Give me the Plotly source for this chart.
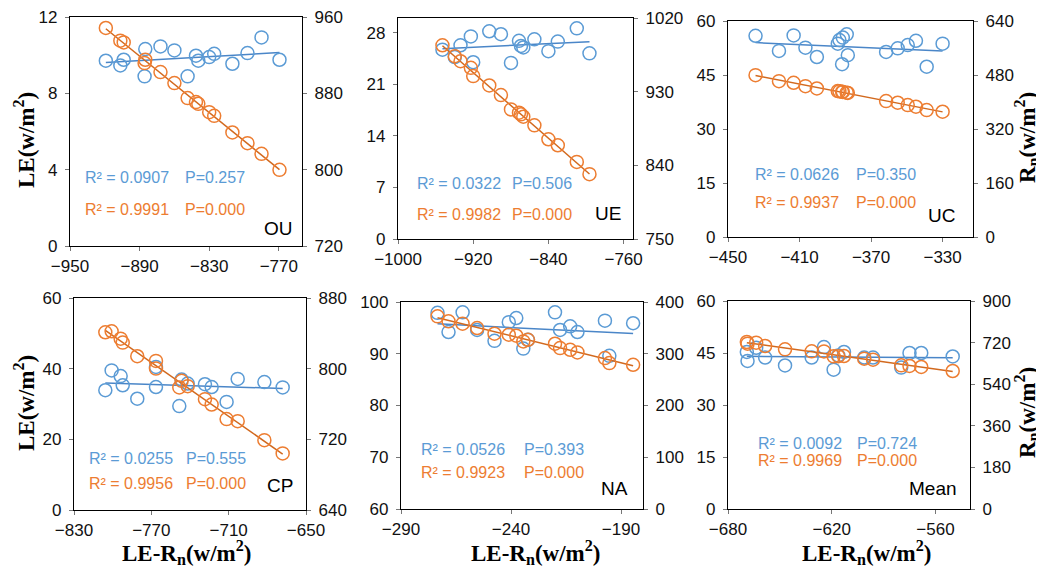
import numpy as np
import plotly.graph_objects as go

# ---- data (x = LE-Rn, le = LE, rn = Rn) ----
ou_x = [-919.1, -906.6, -903.7, -885.1, -885.7, -872.0, -860.0, -848.6, -841.4, -839.4, -830.0, -825.7, -810.0, -797.0, -784.9, -769.4]
ou_le = [9.71, 9.46, 9.76, 10.32, 8.89, 10.46, 10.25, 8.89, 9.97, 9.71, 9.90, 10.07, 9.55, 10.11, 10.93, 9.76]
ou_rn = [948.5, 935.2, 933.4, 915.2, 911.7, 902.3, 890.7, 875.0, 870.8, 869.0, 860.3, 856.4, 839.0, 827.8, 816.6, 799.8]

ue_x = [-952.7, -939.6, -933.5, -922.5, -920.0, -902.9, -890.5, -879.8, -871.3, -869.2, -866.7, -854.9, -840.0, -830.0, -809.8, -796.3]
ue_le = [25.7, 24.7, 26.3, 27.5, 24.0, 28.2, 27.8, 23.9, 26.9, 26.2, 26.0, 27.1, 25.5, 26.8, 28.6, 25.2]
ue_rn = [986.7, 973.3, 967.2, 959.1, 949.0, 937.6, 925.8, 908.3, 904.3, 902.3, 899.4, 888.9, 871.8, 864.5, 844.2, 829.2]

uc_x = [-434.6, -421.5, -413.3, -406.7, -400.3, -388.6, -387.7, -385.8, -383.6, -383.0, -386.2, -361.6, -355.1, -349.5, -344.9, -338.9, -330.0]
uc_le = [55.9, 51.7, 56.0, 52.6, 50.0, 53.7, 54.7, 55.4, 56.3, 50.5, 48.0, 51.4, 52.4, 53.3, 54.5, 47.3, 53.7]
uc_rn = [479.5, 461.8, 456.9, 447.0, 440.1, 432.3, 431.5, 429.8, 427.6, 427.0, 430.2, 402.7, 397.8, 390.9, 386.0, 376.0, 371.2]

cp_x = [-805.7, -800.8, -793.8, -792.2, -780.9, -766.4, -766.4, -748.3, -746.5, -741.8, -728.4, -723.2, -711.6, -703.0, -682.3, -668.1]
cp_le = [33.9, 39.5, 37.9, 35.3, 31.5, 40.5, 34.8, 29.4, 36.9, 35.8, 35.6, 34.8, 30.6, 37.1, 36.2, 34.7]
cp_rn = [841.2, 842.3, 834.0, 829.5, 814.1, 808.8, 800.1, 778.7, 786.2, 780.2, 765.5, 759.4, 742.9, 740.6, 719.1, 704.1]

na_x = [-273.4, -268.4, -262.0, -255.4, -247.5, -241.0, -237.6, -234.4, -232.3, -220.0, -217.7, -213.1, -209.8, -197.3, -195.3, -184.5]
na_le = [97.9, 94.2, 98.0, 94.6, 92.5, 96.1, 96.9, 91.0, 92.7, 98.0, 94.6, 95.3, 94.2, 96.4, 89.6, 95.9]
na_rn = [372.3, 362.6, 358.1, 349.7, 338.7, 336.8, 334.8, 323.9, 327.0, 319.4, 311.0, 307.7, 302.6, 291.6, 281.9, 278.7]

mean_x = [-669.1, -668.7, -663.7, -658.5, -647.0, -631.6, -624.5, -618.9, -616.2, -612.9, -601.2, -596.1, -579.8, -575.0, -568.2, -550.0]
mean_le = [45.3, 42.7, 46.5, 43.7, 41.4, 43.7, 46.7, 40.2, 44.3, 45.3, 43.7, 43.7, 40.8, 45.0, 45.0, 44.0]
mean_rn = [722.6, 715.4, 719.7, 705.3, 690.9, 682.2, 682.0, 660.6, 661.0, 662.0, 650.5, 646.2, 621.7, 618.8, 614.5, 597.1]

site_names = ["OU", "UE", "UC", "CP", "NA", "Mean"]
r2_le = ["0.0907", "0.0322", "0.0626", "0.0255", "0.0526", "0.0092"]
p_le = ["0.257", "0.506", "0.350", "0.555", "0.393", "0.724"]
r2_rn = ["0.9991", "0.9982", "0.9937", "0.9956", "0.9923", "0.9969"]
p_rn = ["0.000", "0.000", "0.000", "0.000", "0.000", "0.000"]

BLUE = "#5B9BD5"
BLUE_LINE = "#4A86C8"
ORANGE = "#ED7D31"
ORANGE_LINE = "#D2691E"

# page body has an 8px margin, so the figure is a little smaller than the window
OFF = 8
W, H = 1044 - OFF, 570 - OFF


def px(x, y):
    return (x - OFF) / W, 1 - (y - OFF) / H


panels = [
    dict(x=ou_x, le=ou_le, rn=ou_rn, xr=[-950, -750], xd=60, lr=[0, 12], ld=4, rr=[720, 960], rd=80,
         box=(70, 17, 302, 246), r2y=(177, 209), px_=(83, 183), lab=(295, 228)),
    dict(x=ue_x, le=ue_le, rn=ue_rn, xr=[-1000, -750], xd=80, lr=[0, 30], ld=7, rr=[750, 1020], rd=90,
         box=(398, 18, 633, 239), r2y=(183, 214), px_=(415, 510), lab=(623, 213)),
    dict(x=uc_x, le=uc_le, rn=uc_rn, xr=[-450, -313], xd=40, lr=[0, 60], ld=15, rr=[0, 640], rd=160,
         box=(728, 21, 973, 237), r2y=(174, 203), px_=(753, 854), lab=(957, 216)),
    dict(x=cp_x, le=cp_le, rn=cp_rn, xr=[-830, -650], xd=60, lr=[0, 60], ld=20, rr=[640, 880], rd=80,
         box=(74, 298, 306, 510), r2y=(458, 483), px_=(87, 184), lab=(295, 485)),
    dict(x=na_x, le=na_le, rn=na_rn, xr=[-290, -180], xd=50, lr=[60, 100], ld=10, rr=[0, 400], rd=100,
         box=(401, 302, 643, 509), r2y=(449, 473), px_=(419, 522), lab=(630, 488)),
    dict(x=mean_x, le=mean_le, rn=mean_rn, xr=[-680, -540], xd=60, lr=[0, 60], ld=15, rr=[0, 900], rd=180,
         box=(728, 301, 970, 509), r2y=(444, 460), px_=(756, 855), lab=(959, 488)),
]

fig = go.Figure()
layout = {}
annotations = []
tickfont = dict(family="Liberation Sans, Arial", size=17, color="#111")

for i, p in enumerate(panels):
    n = i + 1
    xa = "x" if n == 1 else f"x{n}"
    ya = "y" if n == 1 else f"y{n}"
    ya2 = f"y{n + 6}"
    x = np.array(p["x"])
    xs = np.array([x.min(), x.max()])

    for yv, axis, col, lcol in [(p["le"], ya, BLUE, BLUE_LINE), (p["rn"], ya2, ORANGE, ORANGE_LINE)]:
        fit = np.polyfit(x, np.array(yv), 1)
        fig.add_trace(go.Scatter(x=xs, y=np.polyval(fit, xs), xaxis=xa, yaxis=axis, mode="lines",
                                 line=dict(color=lcol, width=1.5), showlegend=False, hoverinfo="skip"))
        fig.add_trace(go.Scatter(x=p["x"], y=yv, xaxis=xa, yaxis=axis, mode="markers",
                                 marker=dict(symbol="circle-open", size=13, color=col, line=dict(width=1.5)),
                                 showlegend=False))

    x0, y0, x1, y1 = p["box"]
    xdom = [px(x0, 0)[0], px(x1, 0)[0]]
    ydom = [px(0, y1)[1], px(0, y0)[1]]
    common = dict(showgrid=False, zeroline=False, showline=True, linecolor="black", linewidth=1.2,
                  ticks="outside", ticklen=4, tickcolor="#777", tickfont=tickfont, automargin=False,
                  ticklabeloverflow="allow")
    layout["xaxis" if n == 1 else f"xaxis{n}"] = dict(domain=xdom, anchor=ya, range=p["xr"], tick0=p["xr"][0],
                                                     dtick=p["xd"], mirror=True, **common)
    layout["yaxis" if n == 1 else f"yaxis{n}"] = dict(domain=ydom, anchor=xa, range=p["lr"], tick0=p["lr"][0],
                                                     dtick=p["ld"], ticklabelstandoff=4, **common)
    layout[f"yaxis{n + 6}"] = dict(overlaying=ya, side="right", anchor=xa, range=p["rr"], tick0=p["rr"][0],
                                   dtick=p["rd"], ticklabelstandoff=4, **common)

    fb = dict(family="Liberation Sans, Arial", size=16)
    ax_, bx_ = p["px_"]
    yb, yo = p["r2y"]
    for txt, xx, yy, col in [(f"R² = {r2_le[i]}", ax_, yb, BLUE), (f"P={p_le[i]}", bx_, yb, BLUE),
                             (f"R² = {r2_rn[i]}", ax_, yo, ORANGE), (f"P={p_rn[i]}", bx_, yo, ORANGE)]:
        xp, yp = px(xx, yy)
        annotations.append(dict(x=xp, y=yp, xref="paper", yref="paper", text=txt, showarrow=False,
                                xanchor="left", yanchor="middle", font=dict(color=col, **fb)))
    xp, yp = px(*p["lab"])
    annotations.append(dict(x=xp, y=yp, xref="paper", yref="paper", text=site_names[i], showarrow=False,
                            xanchor="right", yanchor="middle",
                            font=dict(family="Liberation Sans, Arial", size=19, color="black")))

title_font = dict(family="Liberation Serif, Times New Roman", size=23, color="black")
le_title = "<b>LE(w/m<sup>2</sup>)</b>"
rn_title = "<b>R<sub>n</sub>(w/m<sup>2</sup>)</b>"
x_title = "<b>LE-R<sub>n</sub>(w/m<sup>2</sup>)</b>"
for txt, xx, yy, ang in [(le_title, 24, 140, -90), (le_title, 24, 403, -90),
                         (rn_title, 1026, 138, -90), (rn_title, 1026, 413, -90),
                         (x_title, 186, 552, 0), (x_title, 535, 552, 0), (x_title, 866, 552, 0)]:
    xp, yp = px(xx, yy)
    annotations.append(dict(x=xp, y=yp, xref="paper", yref="paper", text=txt, showarrow=False,
                            textangle=ang, xanchor="center", yanchor="middle", font=title_font))

fig.update_layout(width=W, height=H, margin=dict(l=0, r=0, t=0, b=0), paper_bgcolor="white",
                  plot_bgcolor="white", showlegend=False, annotations=annotations, **layout)

fig.write_html("out.html")
